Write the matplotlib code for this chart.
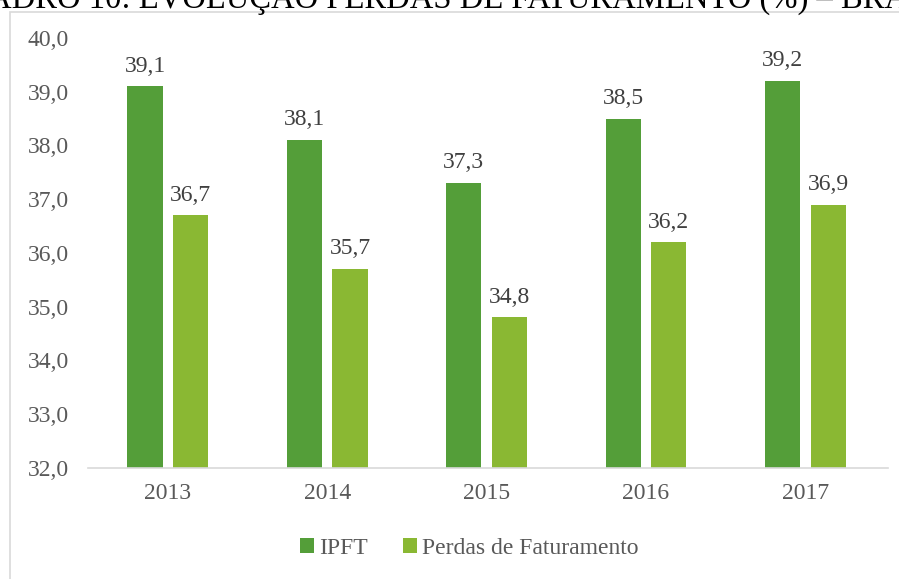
# -*- coding: utf-8 -*-
"""
Evolucao das perdas de faturamento (%) no Brasil, 2013-2017.
"""

# Plot IPFT and billing losses as grouped bars.

import numpy as np
import matplotlib.pyplot as plt
from matplotlib.patches import Rectangle
plt.rcParams['font.family'] = 'Liberation Serif'

# =============================================================================
# 0. Initialization
# =============================================================================

years = ['2013', '2014', '2015', '2016', '2017']
ipft = [39.1, 38.1, 37.3, 38.5, 39.2]
perdas = [36.7, 35.7, 34.8, 36.2, 36.9]
legends = ('IPFT', 'Perdas de Faturamento')
colors = ('#549e39', '#8ab833')

# =============================================================================
# 1. Grouped bars.
# =============================================================================
x = np.arange(len(years))
width = 0.22

fig1 = plt.figure(figsize=(8.99, 5.79), dpi=100)
ax1 = fig1.add_axes([0.098, 0.1917, 0.89, 0.7427])

bars1 = ax1.bar(x - 0.143, np.array(ipft) - 32, width, bottom=32, color=colors[0], label=legends[0])
bars2 = ax1.bar(x + 0.143, np.array(perdas) - 32, width, bottom=32, color=colors[1], label=legends[1])

for bars, vals in ((bars1, ipft), (bars2, perdas)):
    for b, v in zip(bars, vals):
        ax1.annotate(('%.1f' % v).replace('.', ','), (b.get_x() + b.get_width()/2, v),
                     xytext=(0, 7), textcoords='offset points', ha='center', va='bottom',
                     fontsize=17, color='#404040')

ax1.set_xlim((-0.5, 4.52))
ax1.set_ylim((32, 40))
ax1.set_xticks(x)
ax1.set_xticklabels(years)
ax1.set_yticks(np.arange(32, 40.5, 1))
ax1.set_yticklabels([('%.1f' % t).replace('.', ',') for t in np.arange(32, 40.5, 1)])
ax1.tick_params(axis='both', length=0, labelsize=17, labelcolor='#595959')
ax1.tick_params(axis='x', pad=11)
ax1.tick_params(axis='y', pad=14)
for s in ('top', 'right', 'left'):
    ax1.spines[s].set_visible(False)
ax1.spines['bottom'].set_color('#d9d9d9')
ax1.spines['bottom'].set_linewidth(1.2)

ax1.legend(loc='center', bbox_to_anchor=(0.522, 0.053), bbox_transform=fig1.transFigure,
           ncol=2, frameon=False, fontsize=17, labelcolor='#595959',
           handlelength=0.6, handleheight=0.6, handletextpad=0.2, columnspacing=1.5)

# chart frame and the clipped caption above it
fig1.patches.append(Rectangle((0.0115, -0.1), 1.2, 1.079, transform=fig1.transFigure,
                              fill=False, edgecolor='#d9d9d9', linewidth=1.2))
fig1.text(-0.066, 0.986, 'QUADRO 10: EVOLUÇÃO PERDAS DE FATURAMENTO (%) – BRASIL',
          fontsize=23.5, color='black', va='baseline', ha='left')

fig1.savefig('out.png', dpi=100)
